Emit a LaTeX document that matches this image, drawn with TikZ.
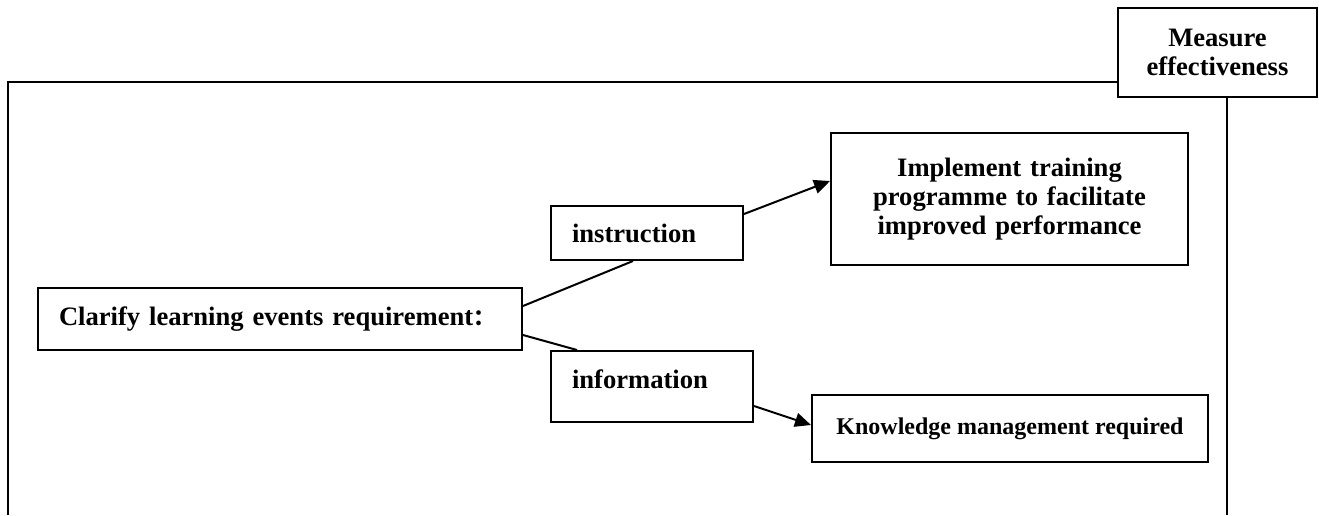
\documentclass[tikz,border=0pt]{standalone}
\usepackage{fontspec}
\setmainfont{Liberation Serif}
\newfontfamily\cjkfont{Noto Sans CJK SC}
\usetikzlibrary{
  arrows.meta,
  positioning
}
\definecolor{inkblack}{RGB}{0,0,0}
\tikzset{
  boxbase/.style={draw=inkblack,line width=1pt,rectangle,inner ysep=0pt,
    font=\bfseries\fontsize{13.3}{14.5}\selectfont},
  centrebox/.style={boxbase,align=center,inner xsep=4pt},
  leftbox/.style={boxbase,align=left,inner xsep=10.5pt},
  link/.style={line width=1pt,draw=inkblack},
  linkarrow/.style={link,-{Triangle[length=8pt,width=7pt]}},
  frameline/.style={line width=1pt,draw=inkblack}
}

\begin{document}
\begin{tikzpicture}[x=0.5pt,y=-0.5pt]
  \useasboundingbox (0,0) rectangle (1319,515);
  \node[centrebox,minimum width=99.5pt,minimum height=44.5pt] (measure) at (1217.5,52.5) {Measure\\effectiveness};
  \node[centrebox,minimum width=178.5pt,minimum height=66pt,text width=170.5pt] (implement) at (1009.5,199)
    {Implement training\\programme to facilitate\\improved performance};
  \node[leftbox,minimum width=96pt,minimum height=27pt,text width=75pt] (instr) at (647,233) {instruction};
  \node[leftbox,minimum width=242pt,minimum height=31pt,text width=221pt] (clarify) at (280,319)
    {\mbox{Clarify learning events requirement{\cjkfont\fontsize{11}{14}\selectfont ：}}};
  \node[leftbox,minimum width=101pt,minimum height=35.5pt,text width=80pt,text depth=7pt] (info) at (652,386.5) {information};
  \node[centrebox,minimum width=198pt,minimum height=33.5pt,font=\bfseries\fontsize{12}{14}\selectfont] (knowledge) at (1010,428.5)
    {Knowledge management required};
  % outer frame
  \coordinate (frametop) at (8,82);
  \coordinate (framebot) at (8,515);
  \draw[frameline] (framebot) -- (frametop) -- (frametop -| measure.west);
  \draw[frameline] ([xshift=4.75pt]measure.south) -- ([xshift=4.75pt]measure.south |- framebot);
  % links
  \draw[link] ([yshift=6.5pt]clarify.east) -- ([xshift=-7pt]instr.south);
  \draw[link] ([yshift=-8pt]clarify.east) -- ([xshift=13.5pt]info.north west);
  \draw[linkarrow] ([yshift=9.5pt]instr.east) -- ([yshift=9pt]implement.west);
  \draw[linkarrow] ([yshift=-9.75pt]info.east) -- ([yshift=1.75pt]knowledge.west);
\end{tikzpicture}
\end{document}
